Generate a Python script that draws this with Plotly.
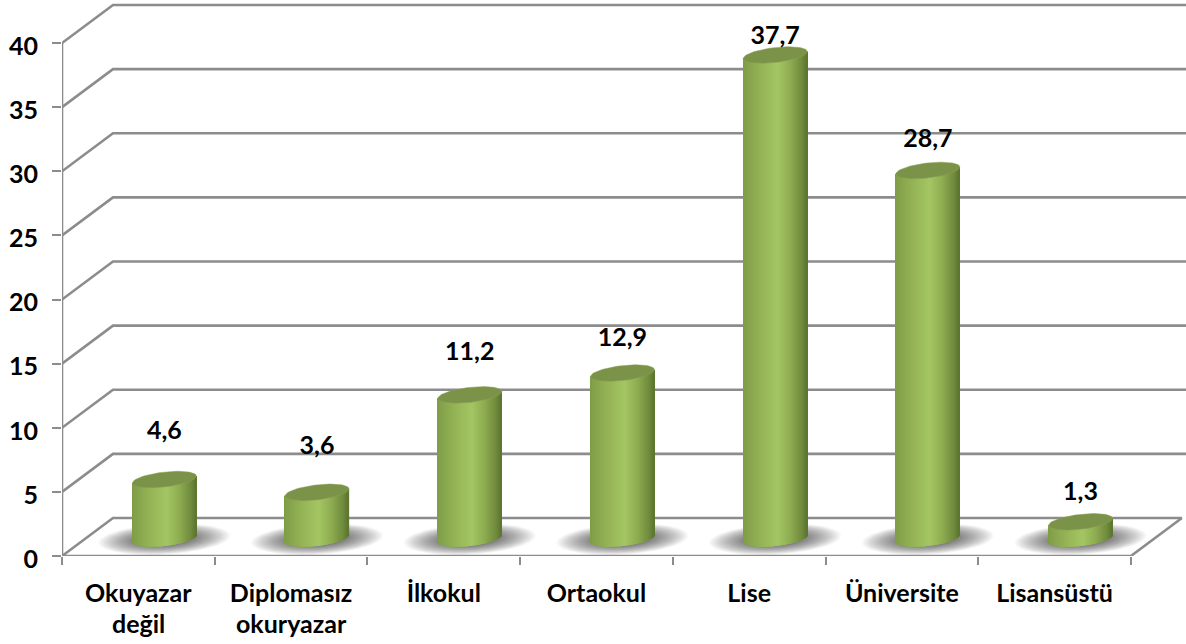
import numpy as np
import plotly.graph_objects as go

# chart data
CATEGORIES = ['Okuyazar\ndeğil', 'Diplomasız\nokuryazar', 'İlkokul', 'Ortaokul', 'Lise', 'Üniversite', 'Lisansüstü']
VALUES = [4.6, 3.6, 11.2, 12.9, 37.7, 28.7, 1.3]
Y_TICKS = [0, 5, 10, 15, 20, 25, 30, 35, 40]

# label lift above the bar top, in pixels (the source places these by hand)
LABEL_LIFT = [47, 45, 41, 33, 17, 30, 28]

# geometry of the fake 3D box
W, H = 1186, 644
LEFT, BOTTOM = 62, 88
PX_X = 152.7   # pixels per category
PX_Y = 12.825  # pixels per value unit
DEPTH_X = 51 / PX_X
DEPTH_Y = 38 / PX_Y
X_MIN = -0.5
X_MAX = X_MIN + (W - LEFT) / PX_X
Y_MAX = (H - BOTTOM) / PX_Y
BAR_HALF = 32 / PX_X
ELL_B = 7.5 / PX_Y
ELL_TILT = 3.5 / PX_Y
FLOOR = DEPTH_Y / 2 - 0.12
OFFSET_X = DEPTH_X / 2 + 0.5 / PX_X

GRID = '#8c8c8c'
FONT = dict(family='Lato', size=25, color='#000000', weight=700)
TOP_COLOR = '#7b9348'

GRAD_U = [-1, -0.6, 0.08, 0.5, 0.85, 1]
GRAD_RGB = np.array([[127, 156, 71], [143, 174, 82], [165, 198, 99],
                     [141, 171, 80], [111, 138, 60], [92, 117, 48]])


def strip_color(u):
    r, g, b = [int(np.interp(u, GRAD_U, GRAD_RGB[:, i])) for i in range(3)]
    return f'rgb({r},{g},{b})'


def ellipse(cx, cy, a, b, tilt):
    t = np.linspace(0, 2 * np.pi, 80)
    u = np.cos(t)
    return cx + a * u, cy + tilt * u + b * np.sin(t)


n = len(VALUES)
centers = np.arange(n) + OFFSET_X

fig = go.Figure()

# walls and floor
grid_x, grid_y = [], []
for v in Y_TICKS:
    grid_x += [X_MIN, X_MIN + DEPTH_X, X_MAX if v else n - 0.5 + DEPTH_X, None]
    grid_y += [v, v + DEPTH_Y, v + DEPTH_Y, None]
grid_x += [X_MIN, X_MIN, None, X_MIN, n - 0.5, n - 0.5 + DEPTH_X]
grid_y += [0, Y_TICKS[-1], None, 0, 0, DEPTH_Y]
fig.add_trace(go.Scatter(x=grid_x, y=grid_y, mode='lines', cliponaxis=False,
                         line=dict(color=GRID, width=2.6), hoverinfo='skip'))

# floor shadows, stacked soft ellipses
for cx in centers:
    for k in np.linspace(1.0, 0.4, 24):
        sx, sy = ellipse(cx, FLOOR - 0.05, 66 / PX_X * k, 15.5 / PX_Y * k, ELL_TILT * k)
        fig.add_trace(go.Scatter(x=sx, y=sy, mode='lines', fill='toself', line=dict(width=0),
                                 fillcolor='rgba(0,0,0,0.028)', hoverinfo='skip'))

# cylinder bodies, one thin bar per pixel column
strip_x, strip_base, strip_h, strip_c = [], [], [], []
us = (np.arange(64) + 0.5) / 32 - 1
for cx, v in zip(centers, VALUES):
    for u in us:
        low = FLOOR + ELL_TILT * u - ELL_B * np.sqrt(1 - u * u)
        high = FLOOR + v + ELL_TILT * u
        strip_x.append(cx + u * BAR_HALF)
        strip_base.append(low)
        strip_h.append(high - low)
        strip_c.append(strip_color(u))
fig.add_trace(go.Bar(x=strip_x, y=strip_h, base=strip_base, width=1.2 / PX_X, xaxis='x2', yaxis='y2',
                     marker=dict(color=strip_c, line=dict(width=0)), hoverinfo='skip'))

# cylinder tops
for cx, v in zip(centers, VALUES):
    ex, ey = ellipse(cx, FLOOR + v, BAR_HALF, ELL_B, ELL_TILT)
    fig.add_trace(go.Scatter(x=ex, y=ey, mode='lines', fill='toself', xaxis='x2', yaxis='y2',
                             fillcolor=TOP_COLOR, line=dict(width=0.5, color='#8aa354'), hoverinfo='skip'))

# value labels
fig.add_trace(go.Scatter(
    x=centers,
    y=[FLOOR + v + lift / PX_Y for v, lift in zip(VALUES, LABEL_LIFT)],
    text=[f'{v:.1f}'.replace('.', ',') for v in VALUES],
    mode='text', textposition='middle center', textfont=FONT, cliponaxis=False,
    xaxis='x2', yaxis='y2', hoverinfo='skip'))

# second lines of the two-line category labels
annotations = []
for i, name in enumerate(CATEGORIES):
    parts = name.split('\n')
    if len(parts) > 1:
        annotations.append(dict(x=i, y=0, xref='x', yref='y', text=parts[1], showarrow=False,
                                font=FONT, yshift=-67, yanchor='middle'))

fig.update_layout(
    width=W, height=H,
    margin=dict(l=LEFT, r=0, t=0, b=BOTTOM),
    paper_bgcolor='white', plot_bgcolor='white',
    showlegend=False,
    font=FONT,
    annotations=annotations,
    xaxis=dict(range=[X_MIN, X_MAX], tickmode='array', tickvals=list(range(n)),
               ticktext=[c.split('\n')[0] for c in CATEGORIES], ticks='', showgrid=False,
               zeroline=False, showline=False, ticklabelstandoff=20, tickfont=FONT),
    yaxis=dict(range=[0, Y_MAX], tickmode='array', tickvals=Y_TICKS, ticks='outside', ticklen=9,
               tickwidth=2, tickcolor=GRID, showgrid=False, zeroline=False, showline=False,
               ticklabelstandoff=9, ticklabelshift=3, tickfont=FONT),
    xaxis2=dict(range=[X_MIN, X_MAX], overlaying='x', anchor='y2', side='bottom', tickmode='array',
                tickvals=[i - 0.5 for i in range(n + 1)], ticktext=[''] * (n + 1), ticks='outside',
                ticklen=8, tickwidth=2, tickcolor=GRID, showgrid=False, zeroline=False, showline=False),
    yaxis2=dict(range=[0, Y_MAX], overlaying='y', anchor='x2', showticklabels=False, ticks='',
                showgrid=False, zeroline=False, showline=False),
)

fig.write_html("out.html", config=dict(displayModeBar=False),
               post_script="document.body.style.margin='0';")
